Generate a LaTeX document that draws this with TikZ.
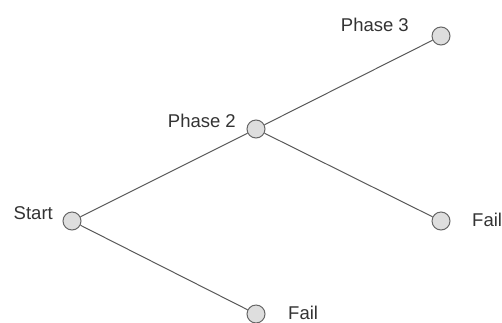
\documentclass[tikz,border=0pt]{standalone}
\usepackage{fontspec}
\setmainfont{Liberation Sans}
\begin{document}
\begin{tikzpicture}[x=1pt,y=-1pt,
  state/.style={circle,draw=black!60,fill=black!13,line width=1pt,minimum size=18pt,inner sep=0pt},
  lbl/.style={text=black!80,font=\fontsize{18.5}{20}\selectfont,inner sep=0pt},
  conn/.style={draw=black!65,line width=1pt}]
\useasboundingbox (0,0) rectangle (502,322);
\node[state] (s) at (72,221) {};
\node[state] (p2) at (256,129) {};
\node[state] (p3) at (441,36) {};
\node[state] (f1) at (441,221) {};
\node[state] (f2) at (256,314) {};
\node[lbl,anchor=east] (ls) at (53,213) {Start};
\node[lbl,anchor=east] (lp2) at (236,121) {Phase 2};
\node[lbl,anchor=east] (lp3) at (409,25) {Phase 3};
\node[lbl,anchor=west] (lf1) at (472,220) {Fail};
\node[lbl,anchor=west] (lf2) at (288,313) {Fail};
\draw[conn] (s) -- (p2);
\draw[conn] (p2) -- (p3);
\draw[conn] (p2) -- (f1);
\draw[conn] (s) -- (f2);
\end{tikzpicture}
\end{document}
